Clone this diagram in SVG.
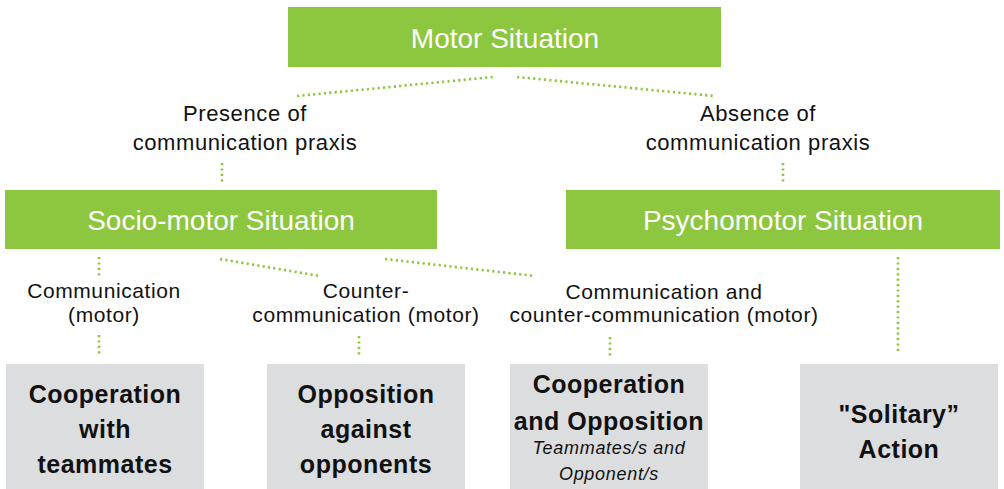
<svg xmlns="http://www.w3.org/2000/svg" width="1004" height="489" viewBox="0 0 1004 489">
<style>
.g{fill:#8dc63f}
.b{fill:#dcdddf}
.tw{font-family:"Liberation Sans",Arial,sans-serif;font-size:28px;fill:#fff;text-anchor:middle}
.tl{font-family:"Liberation Sans",Arial,sans-serif;font-size:21px;fill:#111;text-anchor:middle;letter-spacing:0.6px}
.tt{font-size:22px}
.tb{font-family:"Liberation Sans",Arial,sans-serif;font-size:25px;font-weight:bold;fill:#111;text-anchor:middle;letter-spacing:0.5px}
.ti{font-family:"Liberation Sans",Arial,sans-serif;font-size:18px;font-style:italic;fill:#111;text-anchor:middle;letter-spacing:0.7px}
.d{stroke:#8dc63f;stroke-width:2.6;stroke-dasharray:2.2 3.2;fill:none}
</style>
<rect width="1004" height="489" fill="#fff"/>
<g id="connectors">
<line class="d" x1="297" y1="96" x2="493" y2="77"/>
<line class="d" x1="517" y1="77" x2="714" y2="96"/>
<line class="d" x1="222" y1="163" x2="222" y2="184"/>
<line class="d" x1="783" y1="163" x2="783" y2="184"/>
<line class="d" x1="99" y1="257" x2="99" y2="276"/>
<line class="d" x1="99" y1="335" x2="99" y2="354"/>
<line class="d" x1="220" y1="259" x2="320" y2="276"/>
<line class="d" x1="359" y1="336" x2="359" y2="355"/>
<line class="d" x1="385" y1="259" x2="535" y2="276"/>
<line class="d" x1="610" y1="337" x2="610" y2="356"/>
<line class="d" x1="898" y1="257" x2="898" y2="353"/>
<text class="tl tt" x="245" y="121">Presence of</text>
<text class="tl tt" x="245" y="150">communication praxis</text>
<text class="tl tt" x="758" y="121">Absence of</text>
<text class="tl tt" x="758" y="150">communication praxis</text>
<text class="tl" x="104" y="298">Communication</text>
<text class="tl" x="104" y="322">(motor)</text>
<text class="tl" x="366" y="298">Counter-</text>
<text class="tl" x="366" y="322">communication (motor)</text>
<text class="tl" x="664" y="299">Communication and</text>
<text class="tl" x="664" y="322">counter-communication (motor)</text>
</g>
<g id="motor">
<rect class="g" x="288" y="7" width="433" height="60"/>
<text class="tw" x="505" y="48">Motor Situation</text>
</g>
<g id="sociomotor">
<rect class="g" x="5" y="190" width="432" height="59"/>
<text class="tw" x="221" y="230">Socio-motor Situation</text>
</g>
<g id="psychomotor">
<rect class="g" x="566" y="190" width="434" height="59"/>
<text class="tw" x="783" y="230">Psychomotor Situation</text>
</g>
<g id="cooperation">
<rect class="b" x="6" y="364" width="198" height="125"/>
<text class="tb" x="105" y="403">Cooperation</text>
<text class="tb" x="105" y="438">with</text>
<text class="tb" x="105" y="473">teammates</text>
</g>
<g id="opposition">
<rect class="b" x="267" y="364" width="198" height="125"/>
<text class="tb" x="366" y="403">Opposition</text>
<text class="tb" x="366" y="438">against</text>
<text class="tb" x="366" y="473">opponents</text>
</g>
<g id="coopopp">
<rect class="b" x="510" y="364" width="198" height="125"/>
<text class="tb" x="609" y="393">Cooperation</text>
<text class="tb" x="609" y="430">and Opposition</text>
<text class="ti" x="609" y="454">Teammates/s and</text>
<text class="ti" x="609" y="480">Opponent/s</text>
</g>
<g id="solitary">
<rect class="b" x="800" y="364" width="198" height="125"/>
<text class="tb" x="899" y="423">"Solitary”</text>
<text class="tb" x="899" y="458">Action</text>
</g>
</svg>
